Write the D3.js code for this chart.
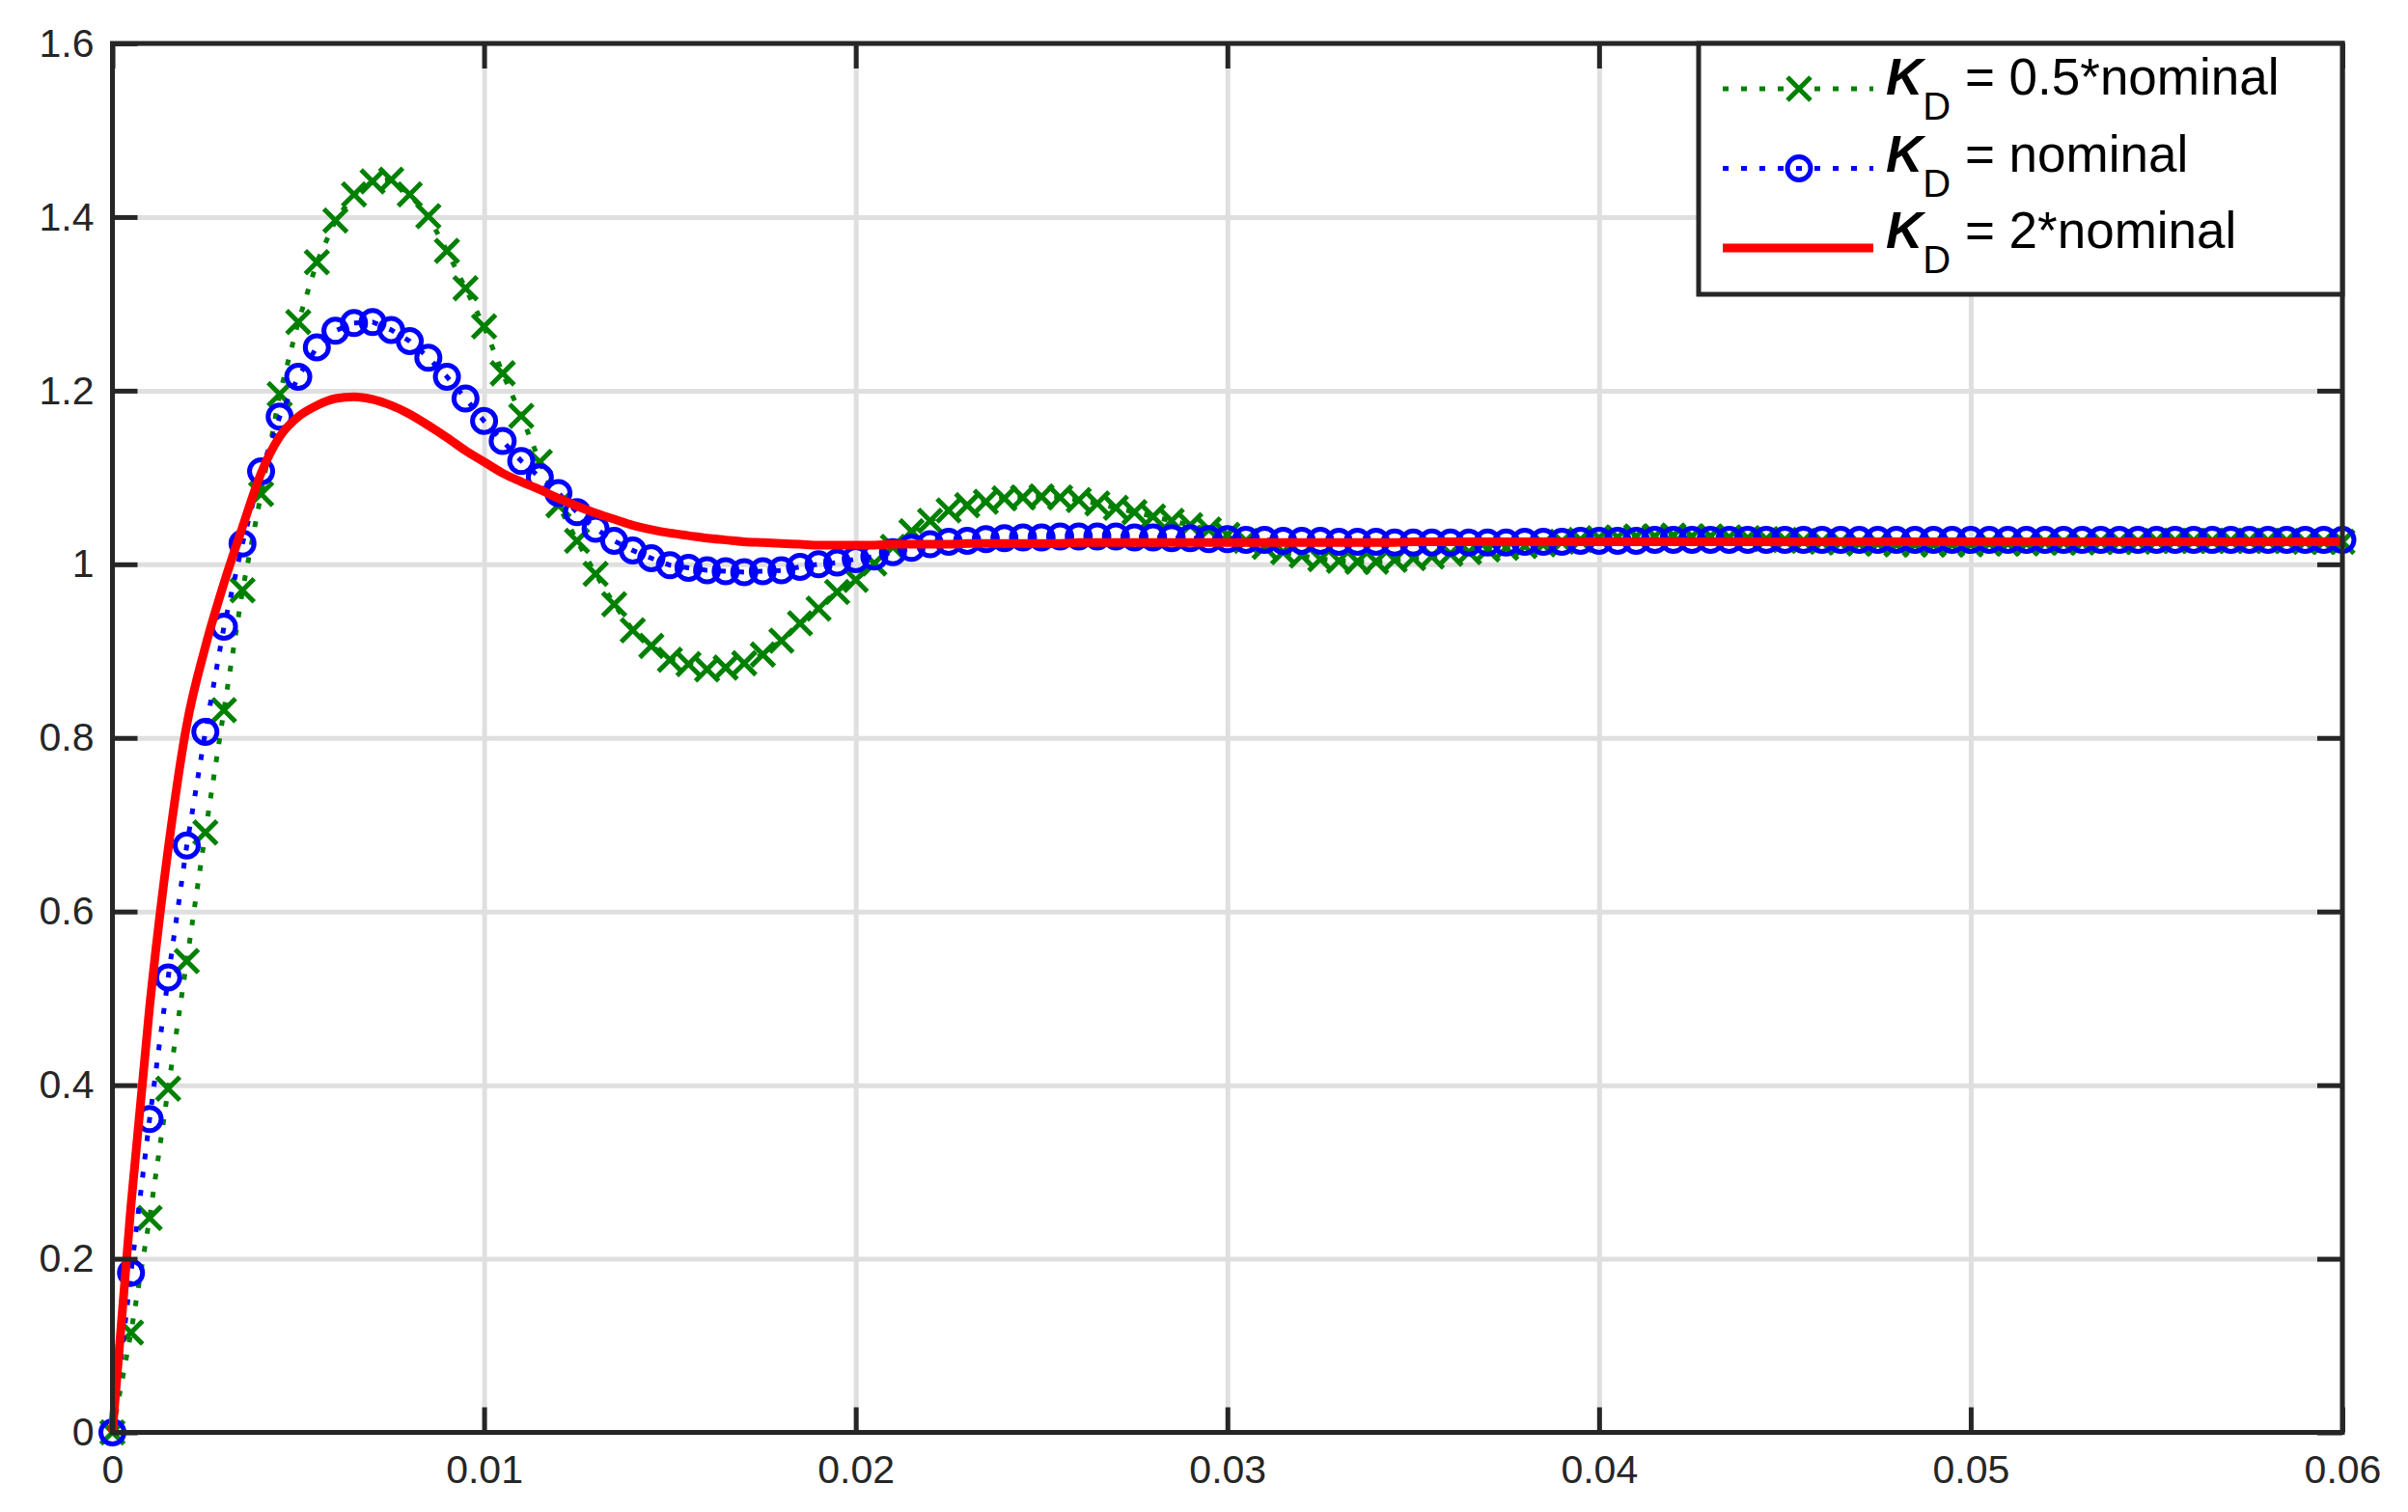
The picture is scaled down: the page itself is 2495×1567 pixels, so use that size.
<!DOCTYPE html>
<html>
<head>
<meta charset="utf-8">
<script src="https://cdn.jsdelivr.net/npm/d3@7"></script>
<style>
  body { margin: 0; background: #fff; }
  text { font-family: "Liberation Sans", Arial, Helvetica, sans-serif; }
</style>
</head>
<body>
<div id="chart"></div>
<script>
// sample spacing of the step responses (one marker every 0.5 ms)
var sampleStep = 0.0005;

// K_D = 0.5*nominal (green, x markers)
var kdHalf = [
  0, 0.115, 0.247, 0.396, 0.543, 0.691, 0.832, 0.970, 1.081, 1.196,
  1.279, 1.348, 1.396, 1.426, 1.441, 1.443, 1.426, 1.401, 1.361, 1.318,
  1.274, 1.220, 1.171, 1.118, 1.068, 1.027, 0.989, 0.954, 0.924, 0.906,
  0.890, 0.885, 0.879, 0.881, 0.886, 0.896, 0.912, 0.932, 0.949, 0.968,
  0.982, 1.001, 1.020, 1.038, 1.050, 1.062, 1.068, 1.072, 1.076, 1.077,
  1.078, 1.077, 1.074, 1.070, 1.065, 1.060, 1.055, 1.050, 1.045, 1.040,
  1.034, 1.027, 1.020, 1.014, 1.010, 1.006, 1.004, 1.003, 1.003, 1.005,
  1.007, 1.009, 1.012, 1.014, 1.017, 1.019, 1.021, 1.023, 1.026, 1.028,
  1.030, 1.031, 1.032, 1.032, 1.033, 1.032, 1.032, 1.031, 1.030, 1.029,
  1.028, 1.027, 1.026, 1.025, 1.024, 1.024, 1.023, 1.023, 1.023, 1.023,
  1.023, 1.024, 1.024, 1.024, 1.025, 1.025, 1.025, 1.026, 1.026, 1.026,
  1.027, 1.027, 1.027, 1.027, 1.027, 1.027, 1.027, 1.027, 1.026, 1.026,
  1.026
];

// K_D = nominal (blue, circle markers)
var kdNominal = [
  0, 0.184, 0.361, 0.524, 0.676, 0.807, 0.928, 1.024, 1.107, 1.170,
  1.216, 1.250, 1.269, 1.278, 1.279, 1.270, 1.257, 1.238, 1.216, 1.191,
  1.165, 1.142, 1.119, 1.100, 1.082, 1.060, 1.041, 1.027, 1.016, 1.007,
  0.999, 0.996, 0.993, 0.992, 0.991, 0.992, 0.993, 0.997, 1.000, 1.002,
  1.006, 1.009, 1.014, 1.019, 1.023, 1.026, 1.027, 1.029, 1.030, 1.031,
  1.031, 1.032, 1.032, 1.032, 1.032, 1.031, 1.031, 1.030, 1.030, 1.029,
  1.029, 1.028, 1.028, 1.027, 1.027, 1.027, 1.026, 1.026, 1.026, 1.025,
  1.025, 1.025, 1.025, 1.025, 1.025, 1.025, 1.026, 1.026, 1.026, 1.027,
  1.027, 1.027, 1.027, 1.028, 1.028, 1.028, 1.028, 1.028, 1.028, 1.028,
  1.028, 1.028, 1.028, 1.028, 1.028, 1.028, 1.028, 1.028, 1.028, 1.028,
  1.028, 1.028, 1.028, 1.028, 1.028, 1.028, 1.028, 1.028, 1.028, 1.028,
  1.028, 1.028, 1.028, 1.028, 1.028, 1.028, 1.028, 1.028, 1.028, 1.028,
  1.028
];

// K_D = 2*nominal (red, solid)
var kdDouble = [
  0, 0.262, 0.490, 0.672, 0.815, 0.905, 0.978, 1.043, 1.105, 1.147,
  1.170, 1.183, 1.191, 1.193, 1.190, 1.183, 1.173, 1.160, 1.146, 1.131,
  1.118, 1.105, 1.095, 1.086, 1.076, 1.067, 1.059, 1.052, 1.045, 1.040,
  1.036, 1.033, 1.030, 1.028, 1.026, 1.025, 1.024, 1.023, 1.022, 1.022,
  1.022, 1.022, 1.023, 1.023, 1.023, 1.023, 1.024, 1.024, 1.024, 1.024,
  1.024, 1.024, 1.025, 1.025, 1.025, 1.025, 1.025, 1.025, 1.025, 1.025,
  1.025, 1.025, 1.025, 1.025, 1.025, 1.025, 1.025, 1.025, 1.025, 1.025,
  1.026, 1.026, 1.026, 1.026, 1.026, 1.026, 1.026, 1.026, 1.026, 1.026,
  1.026, 1.026, 1.026, 1.026, 1.026, 1.026, 1.026, 1.026, 1.026, 1.026,
  1.026, 1.026, 1.026, 1.026, 1.026, 1.026, 1.026, 1.026, 1.026, 1.026,
  1.026, 1.026, 1.026, 1.026, 1.026, 1.026, 1.026, 1.026, 1.026, 1.026,
  1.026, 1.026, 1.026, 1.026, 1.026, 1.026, 1.026, 1.026, 1.026, 1.026,
  1.026
];

var xTicks = [0, 0.01, 0.02, 0.03, 0.04, 0.05, 0.06];
var xTickLabels = ["0", "0.01", "0.02", "0.03", "0.04", "0.05", "0.06"];
var yTicks = [0, 0.2, 0.4, 0.6, 0.8, 1, 1.2, 1.4, 1.6];
var yTickLabels = ["0", "0.2", "0.4", "0.6", "0.8", "1", "1.2", "1.4", "1.6"];
var legendLabels = ["0.5*nominal", "nominal", "2*nominal"];

// set the dimensions of the page and the plot box
var W = 2495, H = 1567;
var box = { left: 116.5, right: 2427, top: 45, bottom: 1484.5 };
var axisColor = "#262626";

var svg = d3.select("#chart")
  .append("svg")
  .attr("width", W)
  .attr("height", H)
  .style("display", "block")
  .style("background", "#fff");

var x = d3.scaleLinear().domain([0, 0.06]).range([box.left, box.right]);
var y = d3.scaleLinear().domain([0, 1.6]).range([box.bottom, box.top]);

// grid lines
var grid = svg.append("g");
grid.append("g")
  .attr("transform", "translate(0," + box.bottom + ")")
  .call(d3.axisBottom(x).tickValues(xTicks).tickSize(-(box.bottom - box.top)).tickFormat(""));
grid.append("g")
  .attr("transform", "translate(" + box.left + ",0)")
  .call(d3.axisLeft(y).tickValues(yTicks).tickSize(-(box.right - box.left)).tickFormat(""));
grid.selectAll(".domain").remove();
grid.selectAll("line").attr("stroke", "#dfdfdf").attr("stroke-width", 5);

// series
var series = [
  { values: kdHalf, color: "#008000", dots: true, marker: "x" },
  { values: kdNominal, color: "#0000ff", dots: true, marker: "o" },
  { values: kdDouble, color: "#ff0000", dots: false, marker: null }
];

series.forEach(function (s) {
  var pts = s.values.map(function (v, i) { return [i * sampleStep, v]; });
  var line = d3.line()
    .x(function (d) { return x(d[0]); })
    .y(function (d) { return y(d[1]); })
    .curve(s.dots ? d3.curveLinear : d3.curveMonotoneX);

  svg.append("path")
    .datum(pts)
    .attr("fill", "none")
    .attr("stroke", s.color)
    .attr("stroke-width", s.dots ? 5 : 9)
    .attr("stroke-dasharray", s.dots ? "6 13" : null)
    .attr("stroke-linejoin", "round")
    .attr("d", line);

  if (s.marker == "x") {
    svg.append("g").selectAll("path")
      .data(pts)
      .join("path")
      .attr("transform", function (d) { return "translate(" + x(d[0]) + "," + y(d[1]) + ")"; })
      .attr("d", "M-12,-12L12,12M-12,12L12,-12")
      .attr("stroke", s.color)
      .attr("stroke-width", 5)
      .attr("fill", "none");
  } else if (s.marker == "o") {
    svg.append("g").selectAll("circle")
      .data(pts)
      .join("circle")
      .attr("cx", function (d) { return x(d[0]); })
      .attr("cy", function (d) { return y(d[1]); })
      .attr("r", 12)
      .attr("stroke", s.color)
      .attr("stroke-width", 5)
      .attr("fill", "none");
  }
});

// axes: ticks inward on all four sides, labels bottom and left
var tickLen = 26;
var fontSize = 41;

var xAxis = svg.append("g")
  .attr("transform", "translate(0," + box.bottom + ")")
  .call(d3.axisBottom(x).tickValues(xTicks).tickSize(-tickLen).tickPadding(23)
    .tickFormat(function (d, i) { return xTickLabels[i]; }));
var xAxisTop = svg.append("g")
  .attr("transform", "translate(0," + box.top + ")")
  .call(d3.axisTop(x).tickValues(xTicks).tickSize(-tickLen).tickFormat(""));
var yAxis = svg.append("g")
  .attr("transform", "translate(" + box.left + ",0)")
  .call(d3.axisLeft(y).tickValues(yTicks).tickSize(-tickLen).tickPadding(19)
    .tickFormat(function (d, i) { return yTickLabels[i]; }));
var yAxisRight = svg.append("g")
  .attr("transform", "translate(" + box.right + ",0)")
  .call(d3.axisRight(y).tickValues(yTicks).tickSize(-tickLen).tickFormat(""));

[xAxis, xAxisTop, yAxis, yAxisRight].forEach(function (a) {
  a.select(".domain").remove();
  a.selectAll("line").attr("stroke", axisColor).attr("stroke-width", 5);
  a.selectAll("text")
    .attr("fill", axisColor)
    .style("font-size", fontSize + "px")
    .style("font-family", "'Liberation Sans', Arial, Helvetica, sans-serif");
});

// axes box
svg.append("rect")
  .attr("x", box.left)
  .attr("y", box.top)
  .attr("width", box.right - box.left)
  .attr("height", box.bottom - box.top)
  .attr("fill", "none")
  .attr("stroke", axisColor)
  .attr("stroke-width", 5);

// legend
var lg = svg.append("g");
lg.append("rect")
  .attr("x", 1760)
  .attr("y", box.top)
  .attr("width", box.right - 1760)
  .attr("height", 260)
  .attr("fill", "#fff")
  .attr("stroke", axisColor)
  .attr("stroke-width", 5);

series.forEach(function (s, i) {
  var ly = 92 + 82.5 * i;
  var ty = 98 + 79.5 * i;
  lg.append("line")
    .attr("x1", 1785).attr("x2", 1941)
    .attr("y1", ly).attr("y2", ly)
    .attr("stroke", s.color)
    .attr("stroke-width", s.dots ? 5 : 9)
    .attr("stroke-dasharray", s.dots ? "6 13" : null);
  if (s.marker == "x") {
    lg.append("path")
      .attr("transform", "translate(1864," + ly + ")")
      .attr("d", "M-12,-12L12,12M-12,12L12,-12")
      .attr("stroke", s.color).attr("stroke-width", 5).attr("fill", "none");
  } else if (s.marker == "o") {
    lg.append("circle")
      .attr("cx", 1864).attr("cy", ly).attr("r", 12)
      .attr("stroke", s.color).attr("stroke-width", 5).attr("fill", "none");
  }
  var t = lg.append("text")
    .attr("x", 1954)
    .attr("y", ty)
    .attr("fill", "#000")
    .style("font-size", "53px");
  t.append("tspan").text("K").style("font-weight", "bold").style("font-style", "italic");
  t.append("tspan").text("D").style("font-size", "40px").attr("dy", 26);
  t.append("tspan").text(" = " + legendLabels[i]).attr("dy", -26).attr("xml:space", "preserve");
});
</script>
</body>
</html>
